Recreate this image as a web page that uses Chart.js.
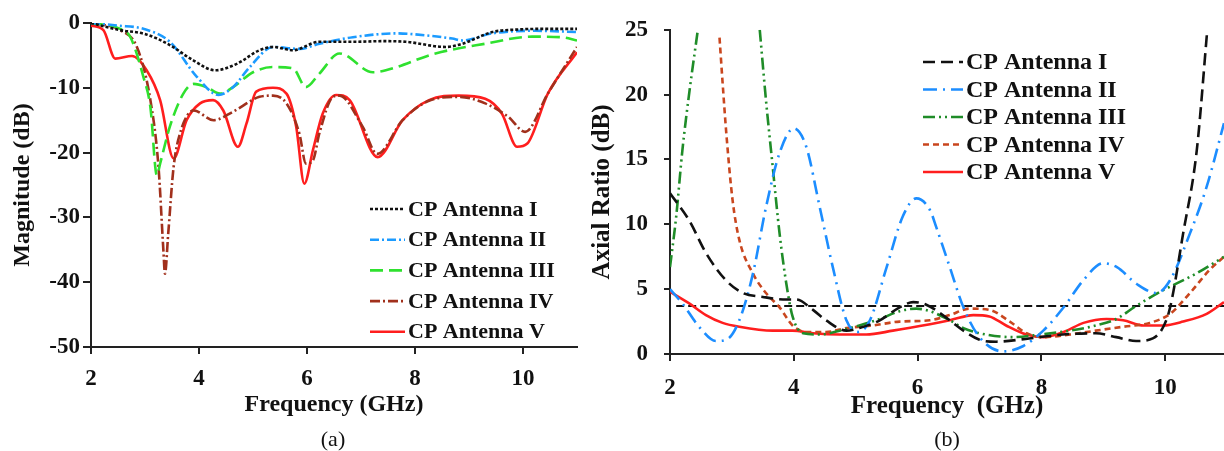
<!DOCTYPE html>
<html>
<head>
<meta charset="utf-8">
<script src="https://cdn.jsdelivr.net/npm/chart.js@4.4.1/dist/chart.umd.min.js"></script>
<style>
  body{ margin:0; background:#fff; width:1224px; height:451px; overflow:hidden; position:relative; }
  canvas{ position:absolute; top:0; }
  .cap{ position:absolute; top:426px; font:22px "Liberation Serif", serif; color:#111; transform:translateX(-50%); }
</style>
</head>
<body>
<canvas id="s11" width="585" height="451" style="left:0"></canvas>
<canvas id="ar" width="639" height="451" style="left:585px"></canvas>
<div class="cap" style="left:333px">(a)</div>
<div class="cap" style="left:947px">(b)</div>
<script>
// (a) reflection magnitude, dB
const freqI   = [2, 2.54, 3.0, 3.46, 3.9, 4.3, 4.7, 5.12, 5.37, 5.74, 6.23, 6.85, 7.4, 7.83, 8.57, 8.88, 9.43, 9.92, 10.5, 11];
const magI    = [0, -1.1, -1.7, -3.4, -5.8, -7.3, -6.3, -4.2, -3.7, -4.2, -2.9, -2.9, -2.8, -2.9, -3.7, -3.2, -1.4, -1.0, -0.9, -0.9];
const freqII  = [2, 2.5, 2.97, 3.46, 3.96, 4.36, 4.63, 4.94, 5.37, 5.86, 6.23, 6.85, 7.65, 8.3, 8.69, 8.88, 9.43, 10.23, 11];
const magII   = [0, -0.4, -0.9, -2.9, -8.3, -11.1, -9.9, -6.8, -3.7, -4.0, -3.2, -2.2, -1.6, -2.0, -2.4, -2.7, -1.6, -1.2, -1.4];
const freqIII = [2, 2.54, 2.73, 2.97, 3.1, 3.22, 3.28, 3.46, 3.71, 3.9, 4.14, 4.39, 4.63, 5.0, 5.37, 5.74, 5.98, 6.23, 6.6, 7.22, 7.46, 8.38, 9.3, 10.17, 10.72, 11];
const magIII  = [0, -0.9, -2.2, -8.3, -13, -23.5, -21.7, -16, -10.9, -9.4, -9.9, -10.9, -9.9, -7.6, -6.8, -7.0, -9.9, -7.8, -4.7, -7.6, -7.3, -4.7, -3.2, -2.1, -2.2, -2.7];
const freqIV  = [2, 2.54, 2.85, 3.1, 3.25, 3.34, 3.37, 3.43, 3.53, 3.65, 3.9, 4.27, 4.63, 5.12, 5.37, 5.62, 5.86, 5.98, 6.11, 6.23, 6.48, 6.6, 7.03, 7.3, 7.77, 8.26, 8.81, 9.3, 9.73, 10.04, 10.46, 11];
const magIV   = [0, -1.1, -3.7, -11.9, -22.2, -35, -38.7, -32.5, -22.2, -17, -13.5, -15, -13.7, -11.4, -11.2, -12.4, -17.1, -21.7, -21.2, -17, -11.4, -11.2, -16, -20.2, -15, -12, -11.4, -12.4, -14.5, -16.8, -10.9, -3.7];
const freqV   = [2, 2.23, 2.45, 2.76, 3.03, 3.28, 3.53, 3.77, 4.02, 4.26, 4.45, 4.72, 4.88, 5.06, 5.37, 5.62, 5.8, 5.95, 6.11, 6.29, 6.54, 6.79, 7.31, 7.77, 8.26, 8.81, 9.3, 9.61, 9.89, 10.08, 10.46, 11];
const magV    = [-0.4, -1.1, -5.5, -5.1, -7.3, -11.9, -20.9, -15, -12.4, -11.9, -13.5, -19.1, -15.5, -10.6, -10.0, -10.9, -16, -24.8, -19.6, -14, -11.1, -11.9, -20.7, -15, -11.9, -11.2, -11.7, -14, -19.1, -18.6, -10.9, -4.5];

// (b) axial ratio, dB
const arFreqI   = [2, 2.31, 2.58, 2.9, 3.18, 3.5, 3.88, 4.04, 4.31, 4.52, 4.85, 5.06, 5.39, 5.71, 5.93, 6.14, 6.52, 6.74, 7.0, 7.27, 7.8, 8.34, 8.88, 9.21, 9.53, 9.8, 9.97, 10.08, 10.29, 10.51, 10.68];
const arI       = [12.4, 10.3, 7.8, 5.7, 4.7, 4.4, 4.2, 4.2, 3.4, 2.6, 1.8, 2.0, 2.6, 3.6, 4.0, 3.8, 2.6, 1.8, 1.1, 0.95, 1.2, 1.5, 1.6, 1.3, 1.0, 1.2, 2.1, 3.6, 9.3, 15.7, 25];
const arFreqII  = [2, 2.2, 2.47, 2.74, 2.91, 3.12, 3.34, 3.55, 3.77, 4.0, 4.2, 4.42, 4.63, 4.85, 5.04, 5.23, 5.5, 5.76, 5.98, 6.2, 6.3, 6.52, 6.74, 7.0, 7.38, 7.7, 8.03, 8.36, 8.68, 9.0, 9.22, 9.54, 9.86, 10.08, 10.4, 10.67, 10.95];
const arII      = [5.0, 3.9, 2.1, 1.0, 1.1, 2.6, 6.2, 11.3, 15.5, 17.4, 16.0, 11.3, 6.7, 2.6, 1.7, 2.6, 6.7, 10.6, 12.0, 11.1, 9.8, 6.7, 3.6, 1.3, 0.2, 0.6, 1.8, 3.6, 5.7, 7.0, 6.7, 5.4, 4.7, 5.7, 9.3, 12.9, 17.8];
const arFreqIII = [2, 2.1, 2.2, 2.31, 2.45, 2.95, 3.45, 3.55, 3.66, 3.77, 3.88, 3.98, 4.15, 4.42, 4.74, 5.06, 5.39, 5.71, 5.98, 6.2, 6.52, 6.74, 7.0, 7.54, 7.98, 8.46, 8.88, 9.21, 9.53, 9.96, 10.5, 10.95];
const arIII     = [6.7, 10.6, 15.7, 20.1, 25, null, 25, 19.6, 14.4, 9.3, 5.4, 2.9, 1.6, 1.5, 1.8, 2.2, 2.7, 3.3, 3.5, 3.3, 2.6, 2.0, 1.6, 1.3, 1.5, 1.8, 2.2, 2.7, 3.7, 4.9, 6.2, 7.5];
const arFreqIV  = [2.8, 2.85, 2.91, 3.01, 3.12, 3.34, 3.55, 3.77, 3.98, 4.2, 4.52, 4.85, 5.28, 5.71, 6.2, 6.52, 6.84, 7.16, 7.49, 7.76, 8.03, 8.46, 8.88, 9.32, 9.75, 10.08, 10.4, 10.72, 10.95];
const arIV      = [24.4, 20.9, 17, 11.9, 8.8, 6.2, 4.7, 3.6, 2.2, 1.7, 1.7, 2.0, 2.2, 2.5, 2.6, 3.0, 3.5, 3.4, 2.5, 1.6, 1.3, 1.5, 1.8, 2.1, 2.4, 3.1, 4.7, 6.5, 7.5];
const arFreqV   = [2, 2.31, 2.58, 2.85, 3.12, 3.66, 3.98, 4.31, 4.74, 5.17, 5.6, 6.2, 6.52, 6.9, 7.16, 7.43, 7.76, 8.03, 8.36, 8.68, 9.05, 9.32, 9.65, 9.97, 10.29, 10.67, 10.95];
const arV       = [4.8, 3.9, 3.0, 2.4, 2.1, 1.8, 1.8, 1.6, 1.5, 1.5, 1.8, 2.3, 2.6, 3.0, 2.9, 2.2, 1.5, 1.3, 1.7, 2.4, 2.7, 2.6, 2.2, 2.2, 2.5, 3.1, 4.0];
const arRefFreq = [2.1, 11];
const arRef     = [3.7, 3.7];

const names = ['CP Antenna I', 'CP Antenna II', 'CP Antenna III', 'CP Antenna IV', 'CP Antenna V'];
const FONT = '"Liberation Serif", "Times New Roman", serif';
const pts = (xs, ys) => xs.map((x, i) => ({x, y: ys[i]}));

// legend drawn by hand so it sits where the figure has it
const boxLegend = {
  id: 'boxLegend',
  afterDraw(chart, args, o){
    const ctx = chart.ctx;
    ctx.save();
    ctx.font = `bold ${o.size}px ${FONT}`;
    ctx.textBaseline = 'middle';
    chart.data.datasets.filter(d => d.label).forEach((d, i) => {
      const y = o.y + i * o.gap;
      ctx.strokeStyle = d.borderColor; ctx.lineWidth = d.borderWidth;
      ctx.setLineDash(d.borderDash || []);
      ctx.beginPath(); ctx.moveTo(o.x, y); ctx.lineTo(o.x + o.len, y); ctx.stroke();
      ctx.setLineDash([]);
      ctx.fillStyle = '#111';
      ctx.fillText(d.label, o.x + o.len + 3, y + 1);
    });
    ctx.restore();
  }
};

function line(label, data, color, dash, width=2.6){
  return { label, data, borderColor:color, borderDash:dash, borderWidth:width, pointRadius:0,
           fill:false, showLine:true, cubicInterpolationMode:'monotone', spanGaps:false };
}

function axes(o){
  const tick = (pad, size) => ({ color:'#111', padding:pad, font:{ family:FONT, size, weight:'bold' } });
  return {
    x:{ type:'linear', min:o.xmin, max:o.xmax,
        ticks:{ ...tick(o.xPad, 23), stepSize:2, includeBounds:false },
        grid:{ drawOnChartArea:false, tickLength:7, color:'#222', lineWidth:2 },
        border:{ color:'#222', width:2 },
        title:{ display:true, text:o.xTitle, color:'#111', font:{ family:FONT, size:o.tSize, weight:'bold' }, padding:{ top:0, bottom:o.xtPad } },
        afterFit(s){ s.height = o.xH; } },
    y:{ min:o.ymin, max:o.ymax,
        ticks:{ ...tick(o.yPad, 23), stepSize:o.ystep },
        grid:{ drawOnChartArea:false, tickLength:o.yTick, color:'#222', lineWidth:2 },
        border:{ color:'#222', width:2 },
        title:{ display:true, text:o.yTitle, color:'#111', font:{ family:FONT, size:o.tSize, weight:'bold' }, padding:{ top:o.ytPad, bottom:0 } },
        afterFit(s){ s.width = o.yW; } }
  };
}

new Chart(document.getElementById('s11'), {
  type:'scatter',
  data:{ datasets:[
    line(names[0], pts(freqI, magI), '#111111', [3, 2]),
    line(names[1], pts(freqII, magII), '#1c9bff', [9, 3, 2, 3]),
    line(names[2], pts(freqIII, magIII), '#2fe12f', [13, 6]),
    line(names[3], pts(freqIV, magIV), '#a1301c', [10, 3, 2, 3]),
    line(names[4], pts(freqV, magV), '#ff1e1e', [])
  ]},
  options:{
    responsive:false, animation:false, devicePixelRatio:1,
    layout:{ padding:{ top:23, right:8, bottom:0, left:0 } },
    plugins:{ legend:{ display:false }, tooltip:{ enabled:false },
              boxLegend:{ x:370, y:209, gap:30.7, len:35, size:22 } },
    scales: axes({ xmin:2, xmax:11, ymin:-50, ymax:0, ystep:10, xPad:11, yPad:3, yTick:8,
                   xTitle:'Frequency (GHz)', yTitle:'Magnitude (dB)', tSize:24, xtPad:32, ytPad:8, xH:104, yW:91 })
  },
  plugins:[boxLegend]
});

new Chart(document.getElementById('ar'), {
  type:'scatter',
  data:{ datasets:[
    line(names[0], pts(arFreqI, arI), '#111111', [12, 6]),
    line(names[1], pts(arFreqII, arII), '#1c8dff', [14, 6, 2, 6]),
    line(names[2], pts(arFreqIII, arIII), '#1f8c28', [12, 4, 2, 4, 2, 4]),
    line(names[3], pts(arFreqIV, arIV), '#c9461e', [6, 4]),
    line(names[4], pts(arFreqV, arV), '#ff1e1e', []),
    line('', pts(arRefFreq, arRef), '#111111', [8, 4], 2.2)
  ]},
  options:{
    responsive:false, animation:false, devicePixelRatio:1,
    layout:{ padding:{ top:29, right:0, bottom:0, left:0 } },
    plugins:{ legend:{ display:false }, tooltip:{ enabled:false },
              boxLegend:{ x:338, y:62, gap:27.5, len:40, size:24 } },
    scales: axes({ xmin:2, xmax:10.95, ymin:0, ymax:25, ystep:5, xPad:13, yPad:16, yTick:6,
                   xTitle:'Frequency  (GHz)', yTitle:'Axial Ratio (dB)', tSize:25, xtPad:29, ytPad:3, xH:97, yW:85 })
  },
  plugins:[boxLegend]
});
</script>
</body>
</html>
